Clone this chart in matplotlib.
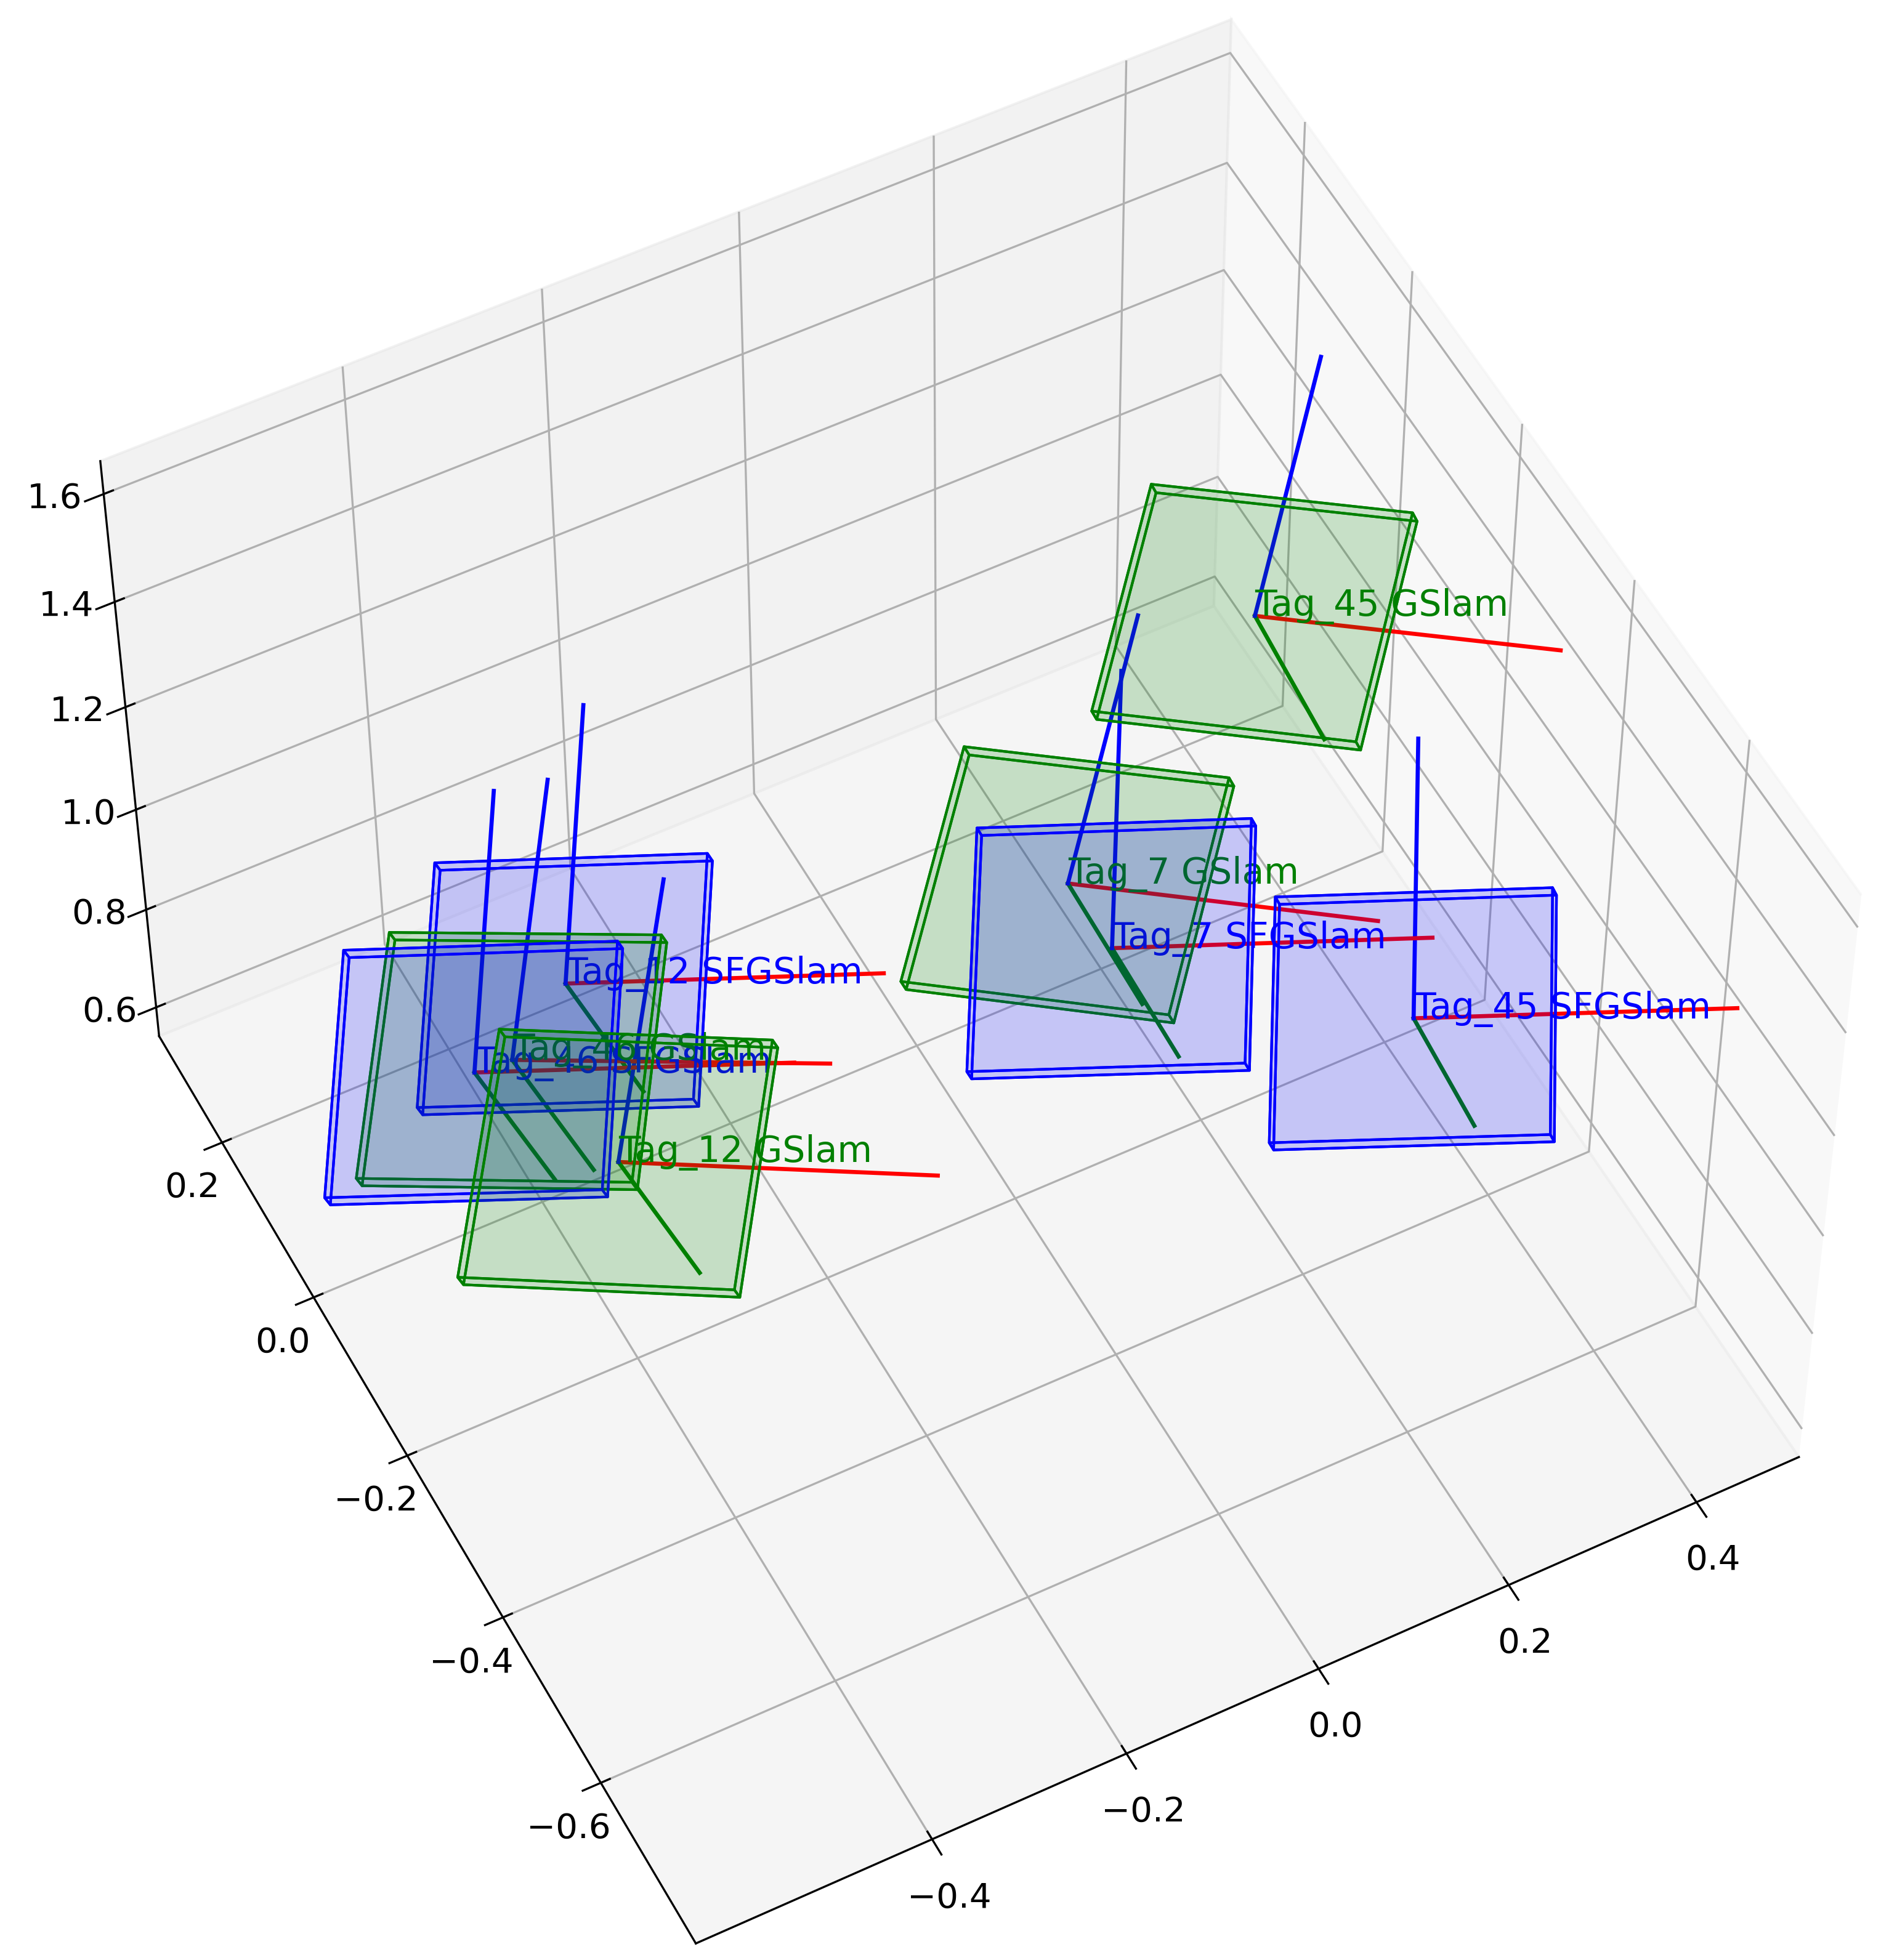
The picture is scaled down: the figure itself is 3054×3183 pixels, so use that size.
import numpy as np
import matplotlib
matplotlib.use("Agg")
import matplotlib.pyplot as plt
from matplotlib.colors import to_rgba
from mpl_toolkits.mplot3d.art3d import Poly3DCollection

names = ["Tag_45 SFGSlam", "Tag_45 GSlam", "Tag_7 GSlam", "Tag_7 SFGSlam",
         "Tag_12 SFGSlam", "Tag_12 GSlam", "Tag_46 SFGSlam", "Tag_46 GSlam"]
xs = [0.30, 0.397, 0.091, 0.092, -0.374, -0.421, -0.493, -0.456]
ys = [-0.41, 0.067, -0.13, -0.214, -0.021, -0.222, -0.073, -0.076]
zs = [1.0, 1.0, 1.0, 1.0, 1.0, 1.0, 1.0, 1.0]
yaws = [-30, -41, -41, -30, -30, -35, -30, -33]
colors = ["blue", "green", "green", "blue", "blue", "green", "blue", "green"]

AX_LEN = 0.3
SIZE = 0.26
THICK = 0.02

fig = plt.figure(figsize=(10.18, 10.61), dpi=300)
ax = fig.add_axes([-0.02, -0.028, 1.04, 1.04], projection="3d")

def frame(yaw):
    y = np.radians(yaw)
    red = np.array([np.cos(y), np.sin(y), 0.0])
    blue0 = np.array([-np.sin(y), np.cos(y), 0.0])
    green = np.array([0.0, 0.0, -1.0]) + 0.22 * red + 0.15 * blue0
    green /= np.linalg.norm(green)
    red = red - np.dot(red, green) * green
    red /= np.linalg.norm(red)
    blue = np.cross(red, green)
    return red, green, blue

for n, x, y, z, yw, c in zip(names, xs, ys, zs, yaws, colors):
    o = np.array([x, y, z])
    r, g, b = frame(yw)
    h = SIZE / 2
    corners = []
    for sg in (-THICK / 2, THICK / 2):
        for sr, sb in ((-1, -1), (1, -1), (1, 1), (-1, 1)):
            corners.append(o + sr * h * r + sb * h * b + sg * g)
    P = np.array(corners)
    faces = [[0, 1, 2, 3], [4, 5, 6, 7], [0, 1, 5, 4], [1, 2, 6, 5], [2, 3, 7, 6], [3, 0, 4, 7]]
    pc = Poly3DCollection([[P[i] for i in f] for f in faces],
                          facecolor=to_rgba(c, 0.1), edgecolor=to_rgba(c, 1.0), linewidth=1.0)
    ax.add_collection3d(pc)
    for vec, col in ((r, "red"), (g, "green"), (b, "blue")):
        e = o + AX_LEN * vec
        ax.plot([o[0], e[0]], [o[1], e[1]], [o[2], e[2]], color=col, linewidth=1.6)
    ax.text(x, y, z, n, color=c, fontsize=14)

ax.set_xlim(-0.64, 0.51)
ax.set_ylim(-0.79, 0.34)
ax.set_zlim(0.54, 1.66)
ax.set_xticks([-0.4, -0.2, 0.0, 0.2, 0.4])
ax.set_yticks([-0.6, -0.4, -0.2, 0.0, 0.2])
ax.set_zticks([0.6, 0.8, 1.0, 1.2, 1.4, 1.6])
ax.tick_params(labelsize=13.5)
ax.view_init(elev=53, azim=-117.5)
fig.savefig("out.png", dpi=300)
